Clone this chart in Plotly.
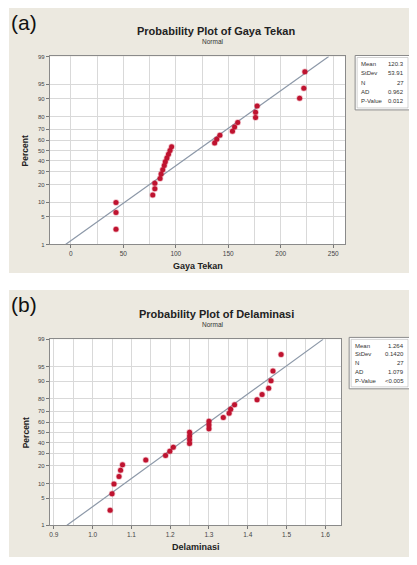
import plotly.graph_objects as go
from statistics import NormalDist

# ---------------- data ----------------
gaya_tekan = [43, 43, 43, 78, 80, 80, 85, 86, 87.5, 89, 90, 91.5, 93, 94.5, 96,
              137, 139, 142, 154, 156, 159, 176, 176, 177.5, 218, 222, 223]
delaminasi = [1.045, 1.05, 1.055, 1.068, 1.072, 1.077, 1.137, 1.188, 1.199, 1.208,
              1.25, 1.25, 1.25, 1.25, 1.30, 1.30, 1.30, 1.337, 1.352, 1.356, 1.366,
              1.424, 1.437, 1.454, 1.46, 1.465, 1.486]

stat_labels = ["Mean", "StDev", "N", "AD", "P-Value"]
stats_a = ["120.3", "53.91", "27", "0.962", "0.012"]
stats_b = ["1.264", "0.1420", "27", "1.079", "<0.005"]
fit_a = (120.3, 53.91)   # mean, stdev of fitted normal line
fit_b = (1.264, 0.1420)

pct_ticks = [1, 5, 10, 20, 30, 40, 50, 60, 70, 80, 90, 95, 99]
xticks_a = [0, 50, 100, 150, 200, 250]
xticks_b = [0.9, 1.0, 1.1, 1.2, 1.3, 1.4, 1.5, 1.6]

titles = ["Probability Plot of Gaya Tekan", "Probability Plot of Delaminasi"]
xtitles = ["Gaya Tekan", "Delaminasi"]
panel_tags = ["(a)", "(b)"]

# ---------------- helpers ----------------
nd = NormalDist()
M = 8  # default page body margin
W, H = 417 - 2 * M, 565 - 2 * M
def px(x): return (x - M) / W
def py(y): return 1 - (y - M) / H

zlo, zhi = nd.inv_cdf(0.01), nd.inv_cdf(0.99)
def zvals(data):
    n = len(data)
    return [nd.inv_cdf((i + 1 - 0.3) / (n + 0.4)) for i in range(n)]

FONT = "Liberation Sans"
RED = "#BE1430"
LINE = "#8c98a8"
GRID = "#d9d9d9"
BEIGE = "#ECE9E0"

fig = go.Figure()

panels = [
    dict(beige=(8, 5, 417, 273), plot=(49, 54, 345, 244), leg=(355, 53, 410, 108),
         xr=[-20, 261.4], minor=25, data=gaya_tekan, fit=fit_a, stats=stats_a,
         ticks=xticks_a, tickfmt=None),
    dict(beige=(8, 290, 417, 563), plot=(49, 340, 341, 528), leg=(349, 338, 410, 390),
         xr=[0.8897, 1.641], minor=0.05, data=delaminasi, fit=fit_b, stats=stats_b,
         ticks=xticks_b, tickfmt=".1f"),
]

shapes = []
annotations = []
for k, p in enumerate(panels):
    xa = "x" if k == 0 else "x2"
    ya = "y" if k == 0 else "y2"
    x0, y0, x1, y1 = p["plot"]
    bx0, by0, bx1, by1 = p["beige"]
    shapes.append(dict(type="rect", xref="paper", yref="paper", x0=px(bx0), x1=px(bx1),
                       y0=py(by1), y1=py(by0), fillcolor=BEIGE, line=dict(width=0), layer="below"))
    shapes.append(dict(type="rect", xref="paper", yref="paper", x0=px(x0), x1=px(x1),
                       y0=py(y1), y1=py(y0), fillcolor="white", line=dict(width=0), layer="below"))
    lx0, ly0, lx1, ly1 = p["leg"]
    shapes.append(dict(type="rect", xref="paper", yref="paper", x0=px(lx0), x1=px(lx1),
                       y0=py(ly1), y1=py(ly0), fillcolor="white", line=dict(color="#8a8a8a", width=1)))
    shapes.append(dict(type="rect", xref="paper", yref="paper", x0=px(lx0 + 2), x1=px(lx1 - 2),
                       y0=py(ly1 - 2), y1=py(ly0 + 2), fillcolor="rgba(0,0,0,0)",
                       line=dict(color="#b5b5b5", width=0.6)))
    rowh = (ly1 - ly0 - 8) / 5
    for r, (lab, val) in enumerate(zip(stat_labels, p["stats"])):
        yy = ly0 + 4 + rowh * (r + 0.5)
        annotations.append(dict(x=px(lx0 + 4), y=py(yy), xref="paper", yref="paper", text=lab,
                                showarrow=False, xanchor="left", yanchor="middle",
                                font=dict(family=FONT, size=6, color="#333")))
        annotations.append(dict(x=px(lx1 - 4), y=py(yy), xref="paper", yref="paper", text=val,
                                showarrow=False, xanchor="right", yanchor="middle",
                                font=dict(family=FONT, size=6, color="#333")))
    annotations.append(dict(x=px(23), y=py(by0 + 15), xref="paper", yref="paper", text=panel_tags[k],
                            showarrow=False, xanchor="center", yanchor="middle",
                            font=dict(family=FONT, size=21, color="#111")))
    annotations.append(dict(x=px(216), y=py(y0 - 26), xref="paper", yref="paper",
                            text="<b>" + titles[k] + "</b>", showarrow=False, yanchor="middle",
                            font=dict(family=FONT, size=11, color="#222")))
    annotations.append(dict(x=px(213), y=py(y0 - 15), xref="paper", yref="paper", text="Normal",
                            showarrow=False, yanchor="middle",
                            font=dict(family=FONT, size=6.5, color="#333")))
    annotations.append(dict(x=px((x0 + x1) / 2), y=py(y1 + 22), xref="paper", yref="paper",
                            text="<b>" + xtitles[k] + "</b>", showarrow=False, yanchor="middle",
                            font=dict(family=FONT, size=9, color="#222")))
    annotations.append(dict(x=px(25), y=py((y0 + y1) / 2), xref="paper", yref="paper",
                            text="<b>Percent</b>", showarrow=False, textangle=-90,
                            xanchor="center", yanchor="middle",
                            font=dict(family=FONT, size=8.5, color="#222")))

    m, s = p["fit"]
    fig.add_trace(go.Scatter(x=[m + zlo * s, m + zhi * s], y=[zlo, zhi], mode="lines",
                             line=dict(color=LINE, width=1.2), xaxis=xa, yaxis=ya,
                             showlegend=False, hoverinfo="skip"))
    fig.add_trace(go.Scatter(x=sorted(p["data"]), y=zvals(p["data"]), mode="markers",
                             marker=dict(color=RED, size=5, line=dict(color="rgba(200,16,46,0.3)", width=1.5)),
                             xaxis=xa, yaxis=ya, showlegend=False))

    axkey = "xaxis" if k == 0 else "xaxis2"
    aykey = "yaxis" if k == 0 else "yaxis2"
    fig.layout[axkey] = dict(
        domain=[px(x0), px(x1)], range=p["xr"], anchor=ya,
        tickmode="array", tickvals=p["ticks"],
        ticktext=[(f"{t:.1f}" if p["tickfmt"] else str(t)) for t in p["ticks"]],
        showgrid=True, gridcolor=GRID, gridwidth=1,
        minor=dict(dtick=p["minor"], tick0=0, showgrid=True, gridcolor=GRID, ticks=""),
        ticks="outside", ticklen=3, tickcolor="#777",
        showline=True, linecolor="#8a8a8a", linewidth=1, mirror=True,
        tickfont=dict(family=FONT, size=6.5, color="#444"), zeroline=False, fixedrange=True)
    fig.layout[aykey] = dict(
        domain=[py(y1), py(y0)], range=[zlo, zhi], anchor=xa,
        tickmode="array", tickvals=[nd.inv_cdf(t / 100) for t in pct_ticks],
        ticktext=[str(t) for t in pct_ticks],
        showgrid=True, gridcolor=GRID, gridwidth=1,
        ticks="outside", ticklen=3, tickcolor="#777",
        showline=True, linecolor="#8a8a8a", linewidth=1, mirror=True,
        tickfont=dict(family=FONT, size=6, color="#444"), zeroline=False, fixedrange=True)

fig.update_layout(width=W, height=H, margin=dict(l=0, r=0, t=0, b=0),
                  paper_bgcolor="white", plot_bgcolor="white",
                  shapes=shapes, annotations=annotations, showlegend=False)
fig.write_html("out.html")
